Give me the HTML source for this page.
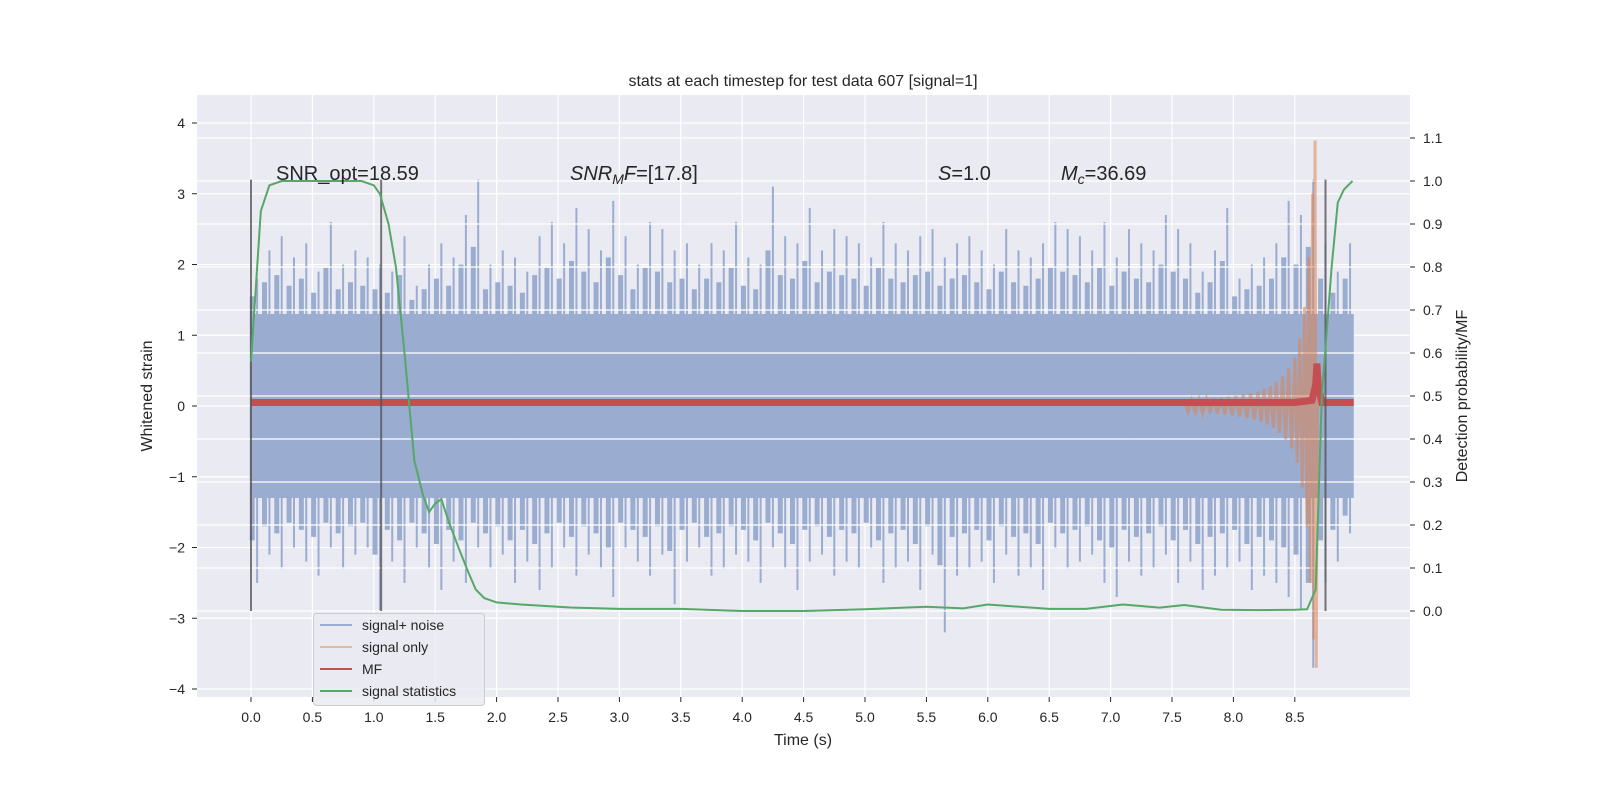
<!DOCTYPE html>
<html><head><meta charset="utf-8"><style>
html,body{margin:0;padding:0;background:#fff;overflow:hidden;width:1600px;height:800px}
svg{display:block;font-family:"Liberation Sans","DejaVu Sans",sans-serif}
</style></head><body>
<svg id="chart" width="1600" height="800" viewBox="0 0 1600 800" xmlns="http://www.w3.org/2000/svg">
<rect x="0" y="0" width="1600" height="800" fill="#ffffff"/>
<rect x="197" y="95" width="1213" height="602" fill="#eaeaf2"/>
<g id="gridL"></g><g id="blue"></g><g id="gridR"></g><g id="orange"></g><g id="red"></g><g id="vlines"></g><g id="green"></g><g id="axes"></g>
<text x="803" y="86" font-size="16" text-anchor="middle" fill="#262626">stats at each timestep for test data 607 [signal=1]</text>
<text x="803" y="745" font-size="16" text-anchor="middle" fill="#262626">Time (s)</text>
<text transform="translate(152,396) rotate(-90)" font-size="16" text-anchor="middle" fill="#262626">Whitened strain</text>
<text transform="translate(1467,396) rotate(-90)" font-size="16" text-anchor="middle" fill="#262626">Detection probability/MF</text>
<text x="276" y="180" font-size="20" fill="#262626">SNR_opt=18.59</text>
<text x="570" y="180" font-size="20" fill="#262626"><tspan font-style="italic">SNR</tspan><tspan font-style="italic" font-size="14" dy="4">M</tspan><tspan font-style="italic" dy="-4">F</tspan>=[17.8]</text>
<text x="938" y="180" font-size="20" fill="#262626"><tspan font-style="italic">S</tspan>=1.0</text>
<text x="1061" y="180" font-size="20" fill="#262626"><tspan font-style="italic">M</tspan><tspan font-style="italic" font-size="14" dy="4">c</tspan><tspan dy="-4">=36.69</tspan></text>
<g>
<rect x="313.5" y="613.5" width="171" height="92" rx="3" fill="#eaeaf2" fill-opacity="0.85" stroke="#cccccc"/>
<line x1="320" y1="625" x2="352" y2="625" stroke="#4c72b0" stroke-opacity="0.5" stroke-width="2"/>
<text x="362" y="630" font-size="14" fill="#262626">signal+ noise</text>
<line x1="320" y1="647" x2="352" y2="647" stroke="#dd8452" stroke-opacity="0.5" stroke-width="2"/>
<text x="362" y="652" font-size="14" fill="#262626">signal only</text>
<line x1="320" y1="669" x2="352" y2="669" stroke="#c44e52" stroke-width="2"/>
<text x="362" y="674" font-size="14" fill="#262626">MF</text>
<line x1="320" y1="691" x2="352" y2="691" stroke="#55a868" stroke-width="2"/>
<text x="362" y="696" font-size="14" fill="#262626">signal statistics</text>
</g>
</svg>
<script>
const xTicks=[0.0,0.5,1.0,1.5,2.0,2.5,3.0,3.5,4.0,4.5,5.0,5.5,6.0,6.5,7.0,7.5,8.0,8.5];
const yTicksL=[-4,-3,-2,-1,0,1,2,3,4];
const yTicksR=[0.0,0.1,0.2,0.3,0.4,0.5,0.6,0.7,0.8,0.9,1.0,1.1];
const noiseUpper=[1.8,2.2,2.4,2.1,2.3,1.9,2.6,2.0,2.2,2.1,2.0,1.9,2.4,1.7,2.0,2.3,2.1,2.7,3.2,2.0,2.2,2.1,1.9,2.4,2.6,2.3,2.8,2.5,2.2,2.9,2.4,2.0,2.6,2.5,2.2,2.3,2.0,2.3,2.2,2.6,2.1,2.0,3.1,2.4,2.3,2.8,2.2,2.5,2.4,2.3,2.1,2.6,2.3,2.2,2.4,2.5,2.1,2.3,2.4,2.2,2.0,2.5,2.2,2.1,2.3,2.6,2.5,2.4,2.2,2.6,2.1,2.5,2.3,2.2,2.7,2.5,2.3,1.9,2.2,2.8,1.8,2.0,2.1,2.3,2.9,2.7,3.2,2.3,1.9,2.3];
const noiseLower=[-2.5,-2.1,-2.3,-2.0,-2.2,-2.4,-2.0,-2.3,-2.1,-2.0,-2.9,-2.2,-2.5,-2.0,-2.3,-2.6,-2.2,-2.5,-2.0,-2.3,-2.1,-2.5,-2.2,-2.6,-2.3,-2.0,-2.4,-2.1,-2.3,-2.7,-2.0,-2.2,-2.4,-2.1,-2.8,-2.2,-2.0,-2.4,-2.3,-2.1,-2.2,-2.5,-2.0,-2.3,-2.6,-2.2,-2.1,-2.4,-2.2,-2.3,-2.0,-2.5,-2.3,-2.2,-2.6,-2.1,-3.2,-2.4,-2.3,-2.2,-2.5,-2.1,-2.4,-2.3,-2.6,-2.0,-2.3,-2.2,-2.1,-2.5,-2.7,-2.2,-2.4,-2.3,-2.1,-2.5,-2.2,-2.6,-2.4,-2.3,-2.2,-2.6,-2.4,-2.5,-2.7,-2.9,-3.7,-2.5,-2.2,-1.8];
const noiseCore=1.3;
const noiseEnd=8.98;
const chirpT=[7.60,7.63,7.66,7.69,7.72,7.75,7.78,7.81,7.84,7.87,7.90,7.93,7.96,7.99,8.02,8.05,8.08,8.11,8.14,8.17,8.20,8.225,8.25,8.275,8.30,8.325,8.35,8.375,8.40,8.425,8.45,8.475,8.50,8.52,8.54,8.56,8.58,8.60,8.615,8.63,8.645,8.655,8.665,8.675,8.685,8.70];
const chirpV=[0.08,-0.08,0.08,-0.09,0.09,-0.1,0.1,-0.1,0.11,-0.11,0.12,-0.12,0.13,-0.13,0.14,-0.15,0.16,-0.17,0.18,-0.19,0.2,-0.22,0.24,-0.26,0.28,-0.31,0.34,-0.38,0.42,-0.47,0.53,-0.6,0.68,-0.8,0.95,-1.15,1.4,-1.7,2.1,-2.5,3.0,-3.3,3.75,-3.7,0.3,0.0];
const mfT=[0.0,0.5,1.0,1.5,2.0,2.5,3.0,3.5,4.0,4.5,5.0,5.5,6.0,6.5,7.0,7.5,8.0,8.5,8.64,8.67,8.68,8.69,8.72,8.98];
const mfV=[0.05,0.05,0.05,0.05,0.05,0.05,0.05,0.05,0.05,0.05,0.05,0.05,0.05,0.05,0.05,0.05,0.05,0.05,0.08,0.3,0.6,0.3,0.05,0.05];
const statT=[0.0,0.08,0.15,0.25,0.5,0.9,1.0,1.05,1.12,1.18,1.25,1.33,1.4,1.45,1.5,1.55,1.62,1.7,1.77,1.83,1.9,2.0,2.2,2.6,3.0,3.5,4.0,4.5,5.0,5.5,5.8,6.0,6.5,6.8,7.1,7.4,7.6,7.9,8.2,8.5,8.6,8.67,8.72,8.8,8.85,8.9,8.97];
const statP=[0.58,0.93,0.99,1.0,1.0,1.0,0.99,0.97,0.9,0.8,0.6,0.35,0.27,0.23,0.25,0.26,0.2,0.14,0.09,0.05,0.03,0.02,0.015,0.008,0.005,0.005,0.0,0.0,0.004,0.01,0.006,0.015,0.005,0.005,0.015,0.008,0.014,0.003,0.002,0.003,0.004,0.05,0.5,0.8,0.95,0.98,1.0];
const vlineT=[0.0,1.06,8.75];
const vlineTop=3.2, vlineBot=0.0;

const NS='http://www.w3.org/2000/svg';
const X=t=>251+122.8*t;
const YL=v=>406-70.75*v;
const YR=p=>611-430*p;
function mk(parent,tag,attrs){const e=document.createElementNS(NS,tag);for(const k in attrs)e.setAttribute(k,attrs[k]);document.getElementById(parent).appendChild(e);return e;}

xTicks.forEach(t=>{
 const g=mk('gridL','line',{x1:X(t),x2:X(t),y1:95,y2:697,stroke:'#fff','stroke-width':1.2});
 
 
 const tk=mk('axes','line',{x1:X(t),x2:X(t),y1:697,y2:702,stroke:'#262626','stroke-width':1});
 
 
 const l=mk('axes','text',{x:X(t),y:722,'font-size':14,'text-anchor':'middle',fill:'#262626'});
 l.textContent=t.toFixed(1);
 
 
});
yTicksL.forEach(v=>{
 const g=mk('gridL','line',{x1:197,x2:1410,y1:YL(v),y2:YL(v),stroke:'#fff','stroke-width':1.2});
 
 
 const tk=mk('axes','line',{x1:192,x2:197,y1:YL(v),y2:YL(v),stroke:'#262626','stroke-width':1});
 
 
 const l=mk('axes','text',{x:185,y:YL(v)+5,'font-size':14,'text-anchor':'end',fill:'#262626'});
 l.textContent=(v<0?'\u2212'+Math.abs(v):String(v));
 
 
});
yTicksR.forEach(p=>{
 const g=mk('gridR','line',{x1:197,x2:1410,y1:YR(p),y2:YR(p),stroke:'#fff','stroke-width':1.2});
 
 
 const tk=mk('axes','line',{x1:1410,x2:1415,y1:YR(p),y2:YR(p),stroke:'#262626','stroke-width':1});
 
 
 const l=mk('axes','text',{x:1423,y:YR(p)+5,'font-size':14,'text-anchor':'start',fill:'#262626'});
 l.textContent=p.toFixed(1);
 
 
});
const core=mk('blue','rect',{x:X(0),y:YL(noiseCore),width:X(noiseEnd)-X(0),height:YL(-noiseCore)-YL(noiseCore),fill:'#9aacd0'});


noiseUpper.forEach((u,i)=>{
 const t=i*0.1+0.05;
 const ln=mk('blue','line',{x1:X(t),x2:X(t),y1:YL(u),y2:YL(noiseLower[i]),stroke:'#9aacd0','stroke-width':2});
 
 
 const a=mk('blue','line',{x1:X(t-0.04),x2:X(t-0.04),y1:YL((u+noiseCore)/2),y2:YL((noiseLower[i]-noiseCore)/2),stroke:'#9aacd0','stroke-width':5});
 
 
});
const op=mk('orange','polyline',{points:chirpT.map((t,i)=>X(t)+','+YL(chirpV[i])).join(' '),fill:'none',stroke:'#dd8452','stroke-opacity':0.55,'stroke-width':3});


const rp=mk('red','polyline',{points:mfT.map((t,i)=>X(t)+','+YL(mfV[i])).join(' '),fill:'none',stroke:'#c44e52','stroke-width':7});


vlineT.forEach(t=>{
 const v=mk('vlines','line',{x1:X(t),x2:X(t),y1:YL(vlineTop),y2:YR(vlineBot),stroke:'#555','stroke-opacity':0.8,'stroke-width':2});
 
 
});
const gp=mk('green','polyline',{points:statT.map((t,i)=>X(t)+','+YR(statP[i])).join(' '),fill:'none',stroke:'#55a868','stroke-width':2});


</script>
</body></html>
